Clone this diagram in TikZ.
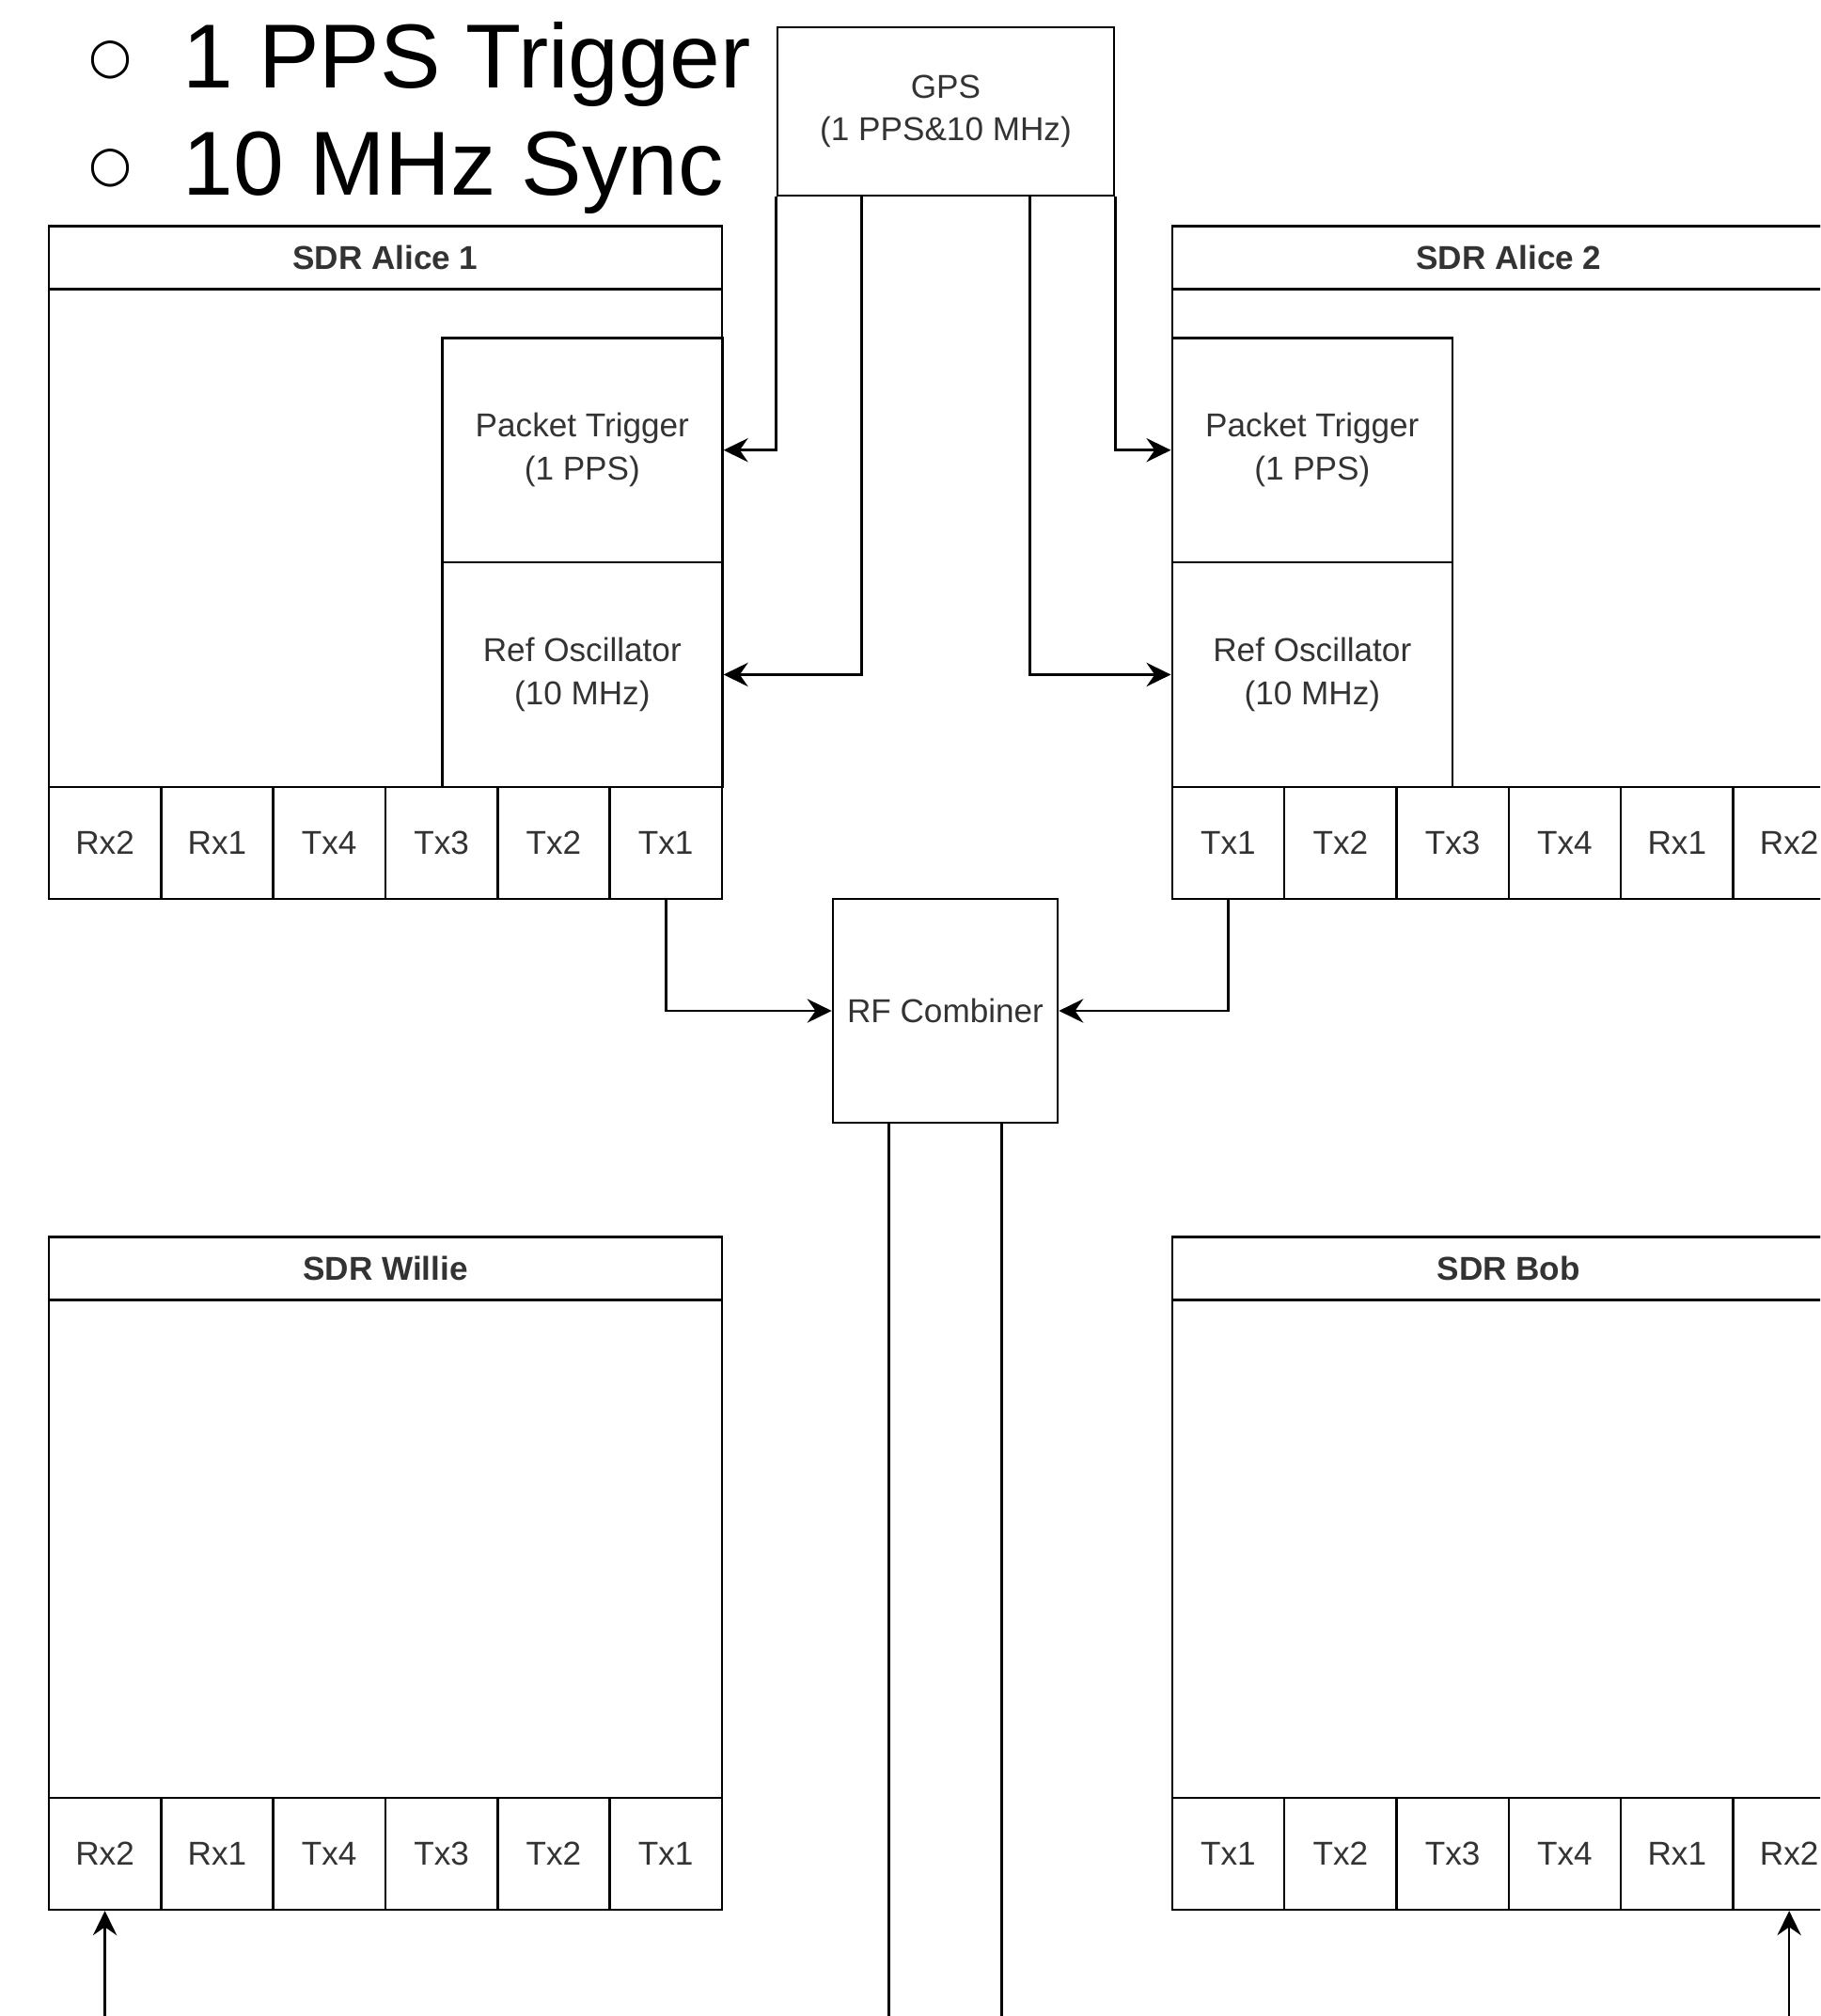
\documentclass[tikz,border=0pt]{standalone}
\usepackage{fontspec}
\setmainfont{Liberation Sans}
\newfontfamily\symfont{DejaVu Sans}
\usetikzlibrary{arrows.meta, positioning}
\definecolor{ctext}{HTML}{333333}
\tikzset{
  every picture/.style={line width=0.75pt},
  box/.style={draw, align=center, inner sep=2pt, text=ctext, font=\fontsize{10}{13}\selectfont},
  frame/.style={draw, minimum width=7.16cm, minimum height=7.155cm, anchor=north west},
  titlebar/.style={box, minimum width=7.16cm, minimum height=0.67cm, anchor=north west, font=\bfseries\fontsize{10}{13}\selectfont},
  port/.style={box, minimum width=1.1933cm, minimum height=1.19cm, anchor=north west},
  sub/.style={box, minimum width=2.98cm, minimum height=2.3875cm, anchor=north west},
  arrow/.style={-{Stealth[length=7.4pt, width=7.2pt, inset=2.5pt]}},
  bigtext/.style={font=\fontsize{27.5}{33}\selectfont, anchor=base west, inner sep=0pt},
  bullet/.style={font=\symfont\fontsize{15}{15}\selectfont, inner sep=0pt},
}
\newcommand{\sdr}[5]{% name, left x, top y, title, ports
  \node[frame] (#1) at (#2,#3) {};
  \node[titlebar] (#1-title) at (#2,#3) {#4};
  \foreach \p [count=\i] in {#5} {
    \node[port] (#1-\p) at ({#2+(\i-1)*1.1933},{#3-5.965}) {\p};
  }
}

\begin{document}
\begin{tikzpicture}
  \useasboundingbox (0,0) rectangle (19.36,-21.44);
  \clip (0,0) rectangle (19.36,-21.44);
  % slide bullets
  \node[bullet] (dot1) at (1.18,-0.64) {○};
  \node[bigtext] (line1) at (1.935,-0.93) {1 PPS Trigger};
  \node[bullet] (dot2) at (1.18,-1.79) {○};
  \node[bigtext] (line2) at (1.935,-2.07) {10 MHz Sync};
  % gps and the two transmitters
  \node[box, minimum width=3.58cm, minimum height=1.79cm] (gps) at (10.06,-1.185) {GPS\\(1 PPS\&10 MHz)};
  \sdr{a1}{0.506}{-2.39}{SDR Alice 1}{Rx2,Rx1,Tx4,Tx3,Tx2,Tx1}
  \node[sub] (a1-pps) at (4.69,-3.58) {Packet Trigger\\(1 PPS)};
  \node[sub] (a1-ref) at (4.69,-5.9675) {Ref Oscillator\\(10 MHz)};
  \sdr{a2}{12.455}{-2.39}{SDR Alice 2}{Tx1,Tx2,Tx3,Tx4,Rx1,Rx2}
  \node[sub] (a2-pps) at (12.455,-3.58) {Packet Trigger\\(1 PPS)};
  \node[sub] (a2-ref) at (12.455,-5.9675) {Ref Oscillator\\(10 MHz)};
  % combiner and receivers
  \node[box, minimum width=2.39cm, minimum height=2.38cm] (rf) at (10.055,-10.75) {RF Combiner};
  \sdr{w}{0.506}{-13.14}{SDR Willie}{Rx2,Rx1,Tx4,Tx3,Tx2,Tx1}
  \sdr{b}{12.455}{-13.14}{SDR Bob}{Tx1,Tx2,Tx3,Tx4,Rx1,Rx2}
  % sync lines
  \draw[arrow] (gps.south west) |- (a1-pps.east);
  \draw[arrow] ([xshift=-0.895cm]gps.south) |- (a1-ref.east);
  \draw[arrow] ([xshift=0.895cm]gps.south) |- (a2-ref.west);
  \draw[arrow] (gps.south east) |- (a2-pps.west);
  % rf paths
  \draw[arrow] (a1-Tx1.south) |- (rf.west);
  \draw[arrow] (a2-Tx1.south) |- (rf.east);
  \coordinate (rfL) at ([xshift=-0.5975cm]rf.south);
  \coordinate (rfR) at ([xshift=0.5975cm]rf.south);
  \coordinate (cutL) at (rfL |- 0,-21.6);
  \coordinate (cutR) at (rfR |- 0,-21.6);
  \draw (rfL) -- (cutL);
  \draw (rfR) -- (cutR);
  \coordinate (wIn) at (w-Rx2.south |- 0,-21.6);
  \coordinate (bIn) at (b-Rx2.south |- 0,-21.6);
  \draw[arrow] (wIn) -- (w-Rx2.south);
  \draw[arrow] (bIn) -- (b-Rx2.south);
\end{tikzpicture}
\end{document}
